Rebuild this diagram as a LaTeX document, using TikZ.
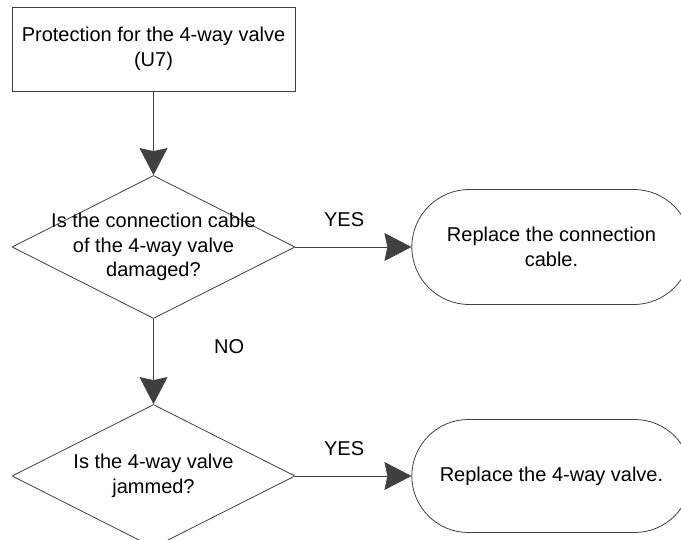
\documentclass[tikz,border=0pt]{standalone}
\usepackage{fontspec}
\setmainfont{Liberation Sans}
\usetikzlibrary{shapes.geometric,shapes.misc,positioning,arrows.meta}

\begin{document}
\begin{tikzpicture}[x=1pt,y=1pt,on grid,
		every node/.style={font=\fontsize{20}{24.5}\selectfont, align=center},
		flowline/.style={draw=black!75, line width=0.8pt, -{Stealth[length=27pt,width=28pt,inset=3pt,fill=black!75]}},
		procbox/.style={draw=black!75, line width=0.8pt, rectangle, minimum width=283pt, minimum height=84pt},
		decision/.style={draw=black!75, line width=0.8pt, diamond, inner sep=0pt, minimum width=283pt, minimum height=143pt},
		term/.style={draw=black!75, line width=0.8pt, rounded rectangle, minimum width=286pt, minimum height=115pt}]
		\useasboundingbox (0,0) rectangle (681,539);
		\clip (0,0) rectangle (681,539);
		\node[procbox] (start) at (153.5,490) {Protection for the 4-way valve\\(U7)};
		\node[decision] (q_1) [below=198pt of start] {};
		\node at (q_1) {Is the connection cable\\of the 4-way valve\\damaged?};
		\node[decision] (q_2) [below=229pt of q_1] {};
		\node at (q_2) {Is the 4-way valve\\jammed?};
		\node[term] (r_1) [right=398pt of q_1] {Replace the connection\\cable.};
		\node[term] (r_2) [right=398pt of q_2, minimum height=113pt] {Replace the 4-way valve.};
		\path[flowline]
		(start) edge (q_1)
		(q_1) edge node[pos=0.42, above=17pt] {YES} (r_1)
		edge node[pos=0.32, right=57pt] {NO} (q_2)
		(q_2) edge node[pos=0.42, above=17pt] {YES} (r_2);
	\end{tikzpicture}
\end{document}
